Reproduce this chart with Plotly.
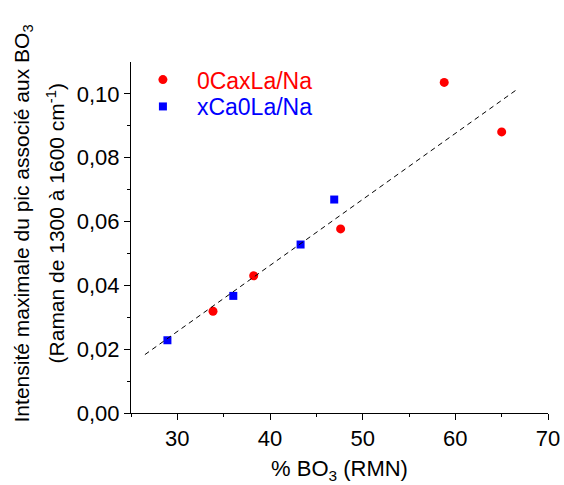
import plotly.graph_objects as go

# Data
red_x = [33.85, 38.24, 47.62, 58.8, 65.0]
red_y = [0.0319, 0.0430, 0.0577, 0.1036, 0.0881]
blue_x = [28.93, 36.04, 43.3, 46.93]
blue_y = [0.0228, 0.0367, 0.0528, 0.0669]
fit_x = [26.5, 66.8]
fit_y = [0.0183, 0.1017]
x_ticks = [30, 40, 50, 60, 70]
y_ticks = [0, 0.02, 0.04, 0.06, 0.08, 0.10]
y_ticklabels = ["0,00", "0,02", "0,04", "0,06", "0,08", "0,10"]
y_title_1 = "Intensité maximale du pic associé aux BO<sub>3</sub>"
y_title_2 = "(Raman de 1300 à 1600 cm<sup>-1</sup>)"

font = "Liberation Sans, Arial, sans-serif"

fig = go.Figure()
fig.add_trace(go.Scatter(
    x=red_x, y=red_y, mode="markers",
    name="<span style='color:#ff0000'>0CaxLa/Na</span>",
    marker=dict(symbol="circle", size=9, color="#ff0000"),
    legend="legend",
))
fig.add_trace(go.Scatter(
    x=blue_x, y=blue_y, mode="markers",
    name="<span style='color:#0000ff'>xCa0La/Na</span>",
    marker=dict(symbol="square", size=8, color="#0000ff"),
    legend="legend2",
))
fig.add_trace(go.Scatter(
    x=fit_x, y=fit_y, mode="lines", showlegend=False,
    line=dict(color="black", width=1, dash="5px,4px"),
))

axis_common = dict(
    showgrid=False, zeroline=False, showline=True, linecolor="black", linewidth=1,
    ticks="outside", ticklen=6, tickwidth=1, tickcolor="black",
    tickfont=dict(family=font, size=22, color="black"),
    mirror=False,
)

legend_common = dict(
    xanchor="left", yanchor="top",
    bgcolor="rgba(0,0,0,0)", font=dict(family=font, size=23),
    itemwidth=58, tracegroupgap=0,
)

fig.update_layout(
    width=564, height=485,
    margin=dict(l=131, r=16, t=62, b=72, autoexpand=False),
    plot_bgcolor="white", paper_bgcolor="white",
    font=dict(family=font, color="black"),
    xaxis=dict(
        range=[25, 70], tickvals=x_ticks,
        minor=dict(tickvals=[25, 35, 45, 55, 65], ticks="outside", ticklen=3, tickcolor="black"),
        title=dict(text="% BO<sub>3</sub> (RMN)", font=dict(family=font, size=22), standoff=10),
        **axis_common,
    ),
    yaxis=dict(
        range=[0, 0.11], tickvals=y_ticks, ticktext=y_ticklabels,
        minor=dict(tickvals=[0.01, 0.03, 0.05, 0.07, 0.09], ticks="outside", ticklen=3, tickcolor="black"),
        **axis_common,
    ),
    legend=dict(x=-0.005, y=1.011, **legend_common),
    legend2=dict(x=-0.005, y=0.9345, **legend_common),
    showlegend=True,
    annotations=[
        dict(text=y_title_1, textangle=-90, xref="paper", yref="paper",
             x=(23 - 131) / 417, y=0.54, xanchor="center", yanchor="middle",
             showarrow=False, font=dict(family=font, size=21, color="black")),
        dict(text=y_title_2, textangle=-90, xref="paper", yref="paper",
             x=(56 - 131) / 417, y=0.54, xanchor="center", yanchor="middle",
             showarrow=False, font=dict(family=font, size=21, color="black")),
    ],
)

fig.write_html(
    "out.html",
    config={"displayModeBar": False},
    post_script="document.body.style.margin='0';document.body.style.overflow='hidden';",
)
